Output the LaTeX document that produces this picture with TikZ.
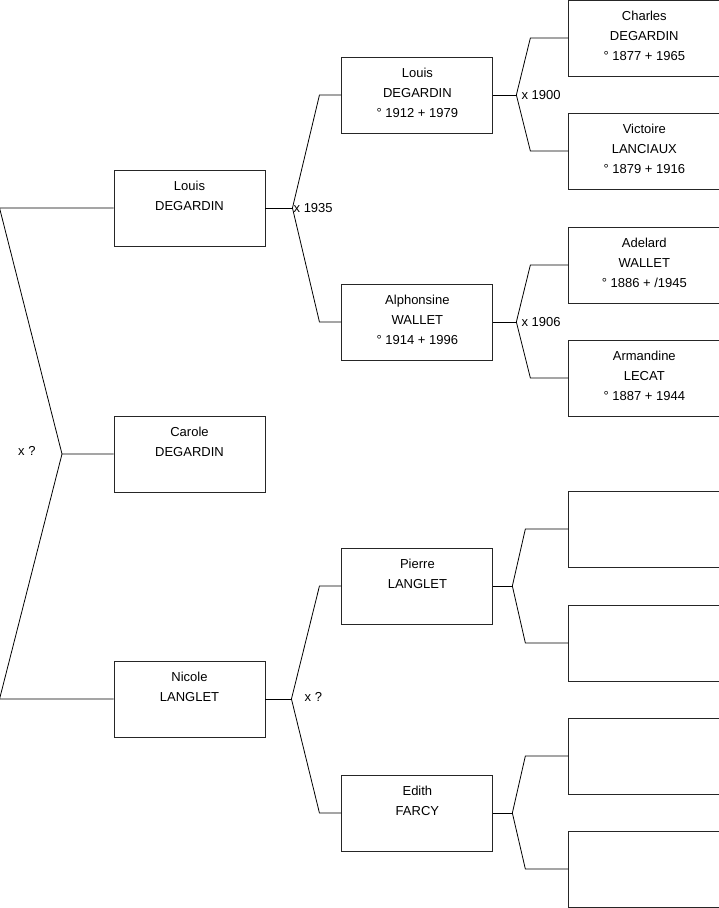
\documentclass[tikz,border=0pt]{standalone}
\usepackage{fontspec}
\setmainfont{Liberation Sans}
\usetikzlibrary{positioning, calc}
\tikzset{
  person/.style={rectangle, draw=black!85, line width=0.9pt, minimum width=151pt, minimum height=76pt, inner sep=0pt, align=center, font=\fontsize{13}{20}\selectfont, execute at end node={\rule[-4pt]{0pt}{4pt}}},
  link/.style={draw=black, line width=0.8pt},
  union/.style={anchor=west, inner sep=0pt, font=\fontsize{13}{15}\selectfont}
}

\begin{document}
\begin{tikzpicture}[x=1pt, y=-1pt]
\useasboundingbox (0,0) rectangle (719,908);
% children
\node[person] (louis) at (189.5,208) {Louis\\DEGARDIN\\\mbox{}};
\node[person] (carole) at (189.5,454) {Carole\\DEGARDIN\\\mbox{}};
\node[person] (nicole) at (189.5,699) {Nicole\\LANGLET\\\mbox{}};

% parents
\node[person, right=76pt of louis, yshift=113pt] (louisp) {Louis\\DEGARDIN\\° 1912 + 1979};
\node[person, right=76pt of louis, yshift=-114pt] (alphonsine) {Alphonsine\\WALLET\\° 1914 + 1996};
\node[person, right=76pt of nicole, yshift=113pt] (pierre) {Pierre\\LANGLET\\\mbox{}};
\node[person, right=76pt of nicole, yshift=-114pt] (edith) {Edith\\FARCY\\\mbox{}};

% grandparents
\node[person, right=75pt of louisp, yshift=57pt] (charles) {Charles\\DEGARDIN\\° 1877 + 1965};
\node[person, right=75pt of louisp, yshift=-56pt] (victoire) {Victoire\\LANCIAUX\\° 1879 + 1916};
\node[person, right=75pt of alphonsine, yshift=57pt] (adelard) {Adelard\\WALLET\\° 1886 + /1945};
\node[person, right=75pt of alphonsine, yshift=-56pt] (armandine) {Armandine\\LECAT\\° 1887 + 1944};
\node[person, right=75pt of pierre, yshift=57pt] (pierrea) {};
\node[person, right=75pt of pierre, yshift=-57pt] (pierreb) {};
\node[person, right=75pt of edith, yshift=57pt] (editha) {};
\node[person, right=75pt of edith, yshift=-56pt] (edithb) {};

% forks
\coordinate (k0) at (62,454);
\coordinate (k1) at ($(louis.east)+(27,0)$);
\coordinate (k2) at ($(louisp.east)+(23,0)$);
\coordinate (k3) at ($(alphonsine.east)+(23,0)$);
\coordinate (k4) at ($(nicole.east)+(26,0)$);
\coordinate (k5) at ($(pierre.east)+(19,0)$);
\coordinate (k6) at ($(edith.east)+(19,0)$);

\draw[link] (louis.west) -- ++(-114,0) -- (k0) -- (carole.west);
\draw[link] (k0) -- ([xshift=-114pt]nicole.west) -- (nicole.west);

\draw[link] (louis.east) -- (k1);
\draw[link] (k1) -- ([xshift=-22pt]louisp.west) -- (louisp.west);
\draw[link] (k1) -- ([xshift=-22pt]alphonsine.west) -- (alphonsine.west);

\draw[link] (louisp.east) -- (k2);
\draw[link] (k2) -- ([xshift=-38pt]charles.west) -- (charles.west);
\draw[link] (k2) -- ([xshift=-38pt]victoire.west) -- (victoire.west);

\draw[link] (alphonsine.east) -- (k3);
\draw[link] (k3) -- ([xshift=-38pt]adelard.west) -- (adelard.west);
\draw[link] (k3) -- ([xshift=-38pt]armandine.west) -- (armandine.west);

\draw[link] (nicole.east) -- (k4);
\draw[link] (k4) -- ([xshift=-22pt]pierre.west) -- (pierre.west);
\draw[link] (k4) -- ([xshift=-22pt]edith.west) -- (edith.west);

\draw[link] (pierre.east) -- (k5);
\draw[link] (k5) -- ([xshift=-43pt]pierrea.west) -- (pierrea.west);
\draw[link] (k5) -- ([xshift=-43pt]pierreb.west) -- (pierreb.west);

\draw[link] (edith.east) -- (k6);
\draw[link] (k6) -- ([xshift=-43pt]editha.west) -- (editha.west);
\draw[link] (k6) -- ([xshift=-43pt]edithb.west) -- (edithb.west);

% marriages
\node[union] (m0) at (18,451) {x ?};
\node[union, xshift=1pt] (m1) at (k1) {x 1935};
\node[union, xshift=5pt] (m2) at (k2) {x 1900};
\node[union, xshift=5pt] (m3) at (k3) {x 1906};
\node[union, xshift=13pt, yshift=2pt] (m4) at (k4) {x ?};
\end{tikzpicture}
\end{document}
